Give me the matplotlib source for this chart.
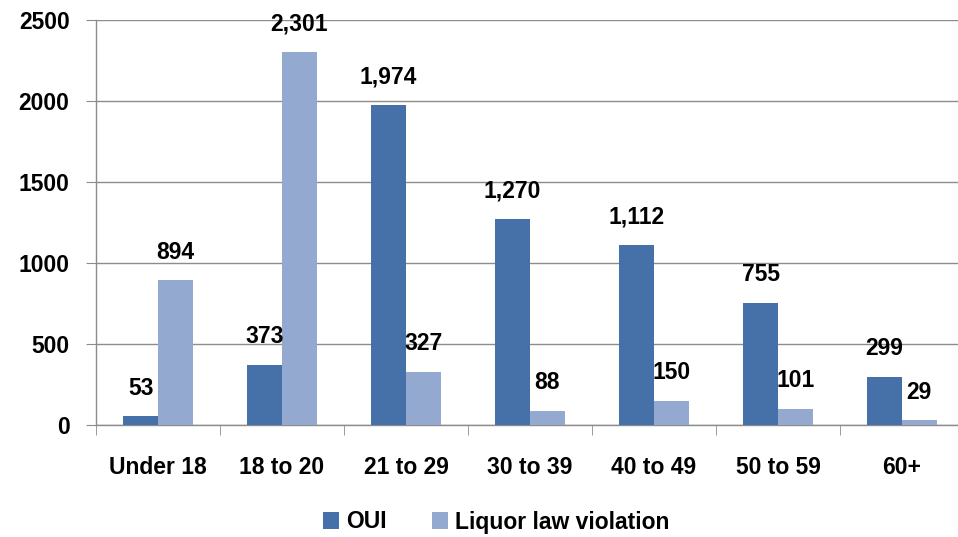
import matplotlib

matplotlib.use("Agg")
import matplotlib.pyplot as plt
import numpy as np

# Age groups and counts per offence type
AGE_GROUPS = ["Under 18", "18 to 20", "21 to 29", "30 to 39", "40 to 49", "50 to 59", "60+"]
OUI = [53, 373, 1974, 1270, 1112, 755, 299]
LIQUOR = [894, 2301, 327, 88, 150, 101, 29]
Y_TICKS = [0, 500, 1000, 1500, 2000, 2500]

OUI_COLOR = "#4571a8"
LIQUOR_COLOR = "#93a9d0"
GRID_COLOR = "#8c8c8c"
FS = 16.5

plt.rcParams["font.family"] = ["Liberation Sans", "DejaVu Sans"]
plt.rcParams["font.weight"] = "bold"

fig = plt.figure(figsize=(9.58, 5.37), dpi=100)
ax = fig.add_axes([96 / 958, 1 - 425 / 537, 868 / 958, 405 / 537])

x = np.arange(len(AGE_GROUPS))
w = 0.28
b1 = ax.bar(x - w / 2, OUI, width=w, color=OUI_COLOR, label="OUI", zorder=3)
b2 = ax.bar(x + w / 2, LIQUOR, width=w, color=LIQUOR_COLOR, label="Liquor law violation", zorder=3)

# value labels sit well above each bar, as in the original
for bars, vals in ((b1, OUI), (b2, LIQUOR)):
    for rect, v in zip(bars, vals):
        ax.annotate(f"{v:,}", xy=(rect.get_x() + rect.get_width() / 2, rect.get_height()),
                    xytext=(0, 12), textcoords="offset points",
                    ha="center", va="bottom", fontsize=FS, fontweight="bold",
                    color="black", annotation_clip=False)

ax.set_xlim(-0.5, len(AGE_GROUPS) - 0.5)
ax.set_ylim(0, 2500)
ax.set_yticks(Y_TICKS)
ax.set_yticklabels([str(t) for t in Y_TICKS], fontsize=FS, fontweight="bold")
ax.set_xticks(x)
ax.set_xticklabels(AGE_GROUPS, fontsize=FS, fontweight="bold")
ax.set_xticks(np.arange(len(AGE_GROUPS)) - 0.5, minor=True)
ax.tick_params(axis="x", which="major", length=0, pad=22)
ax.tick_params(axis="x", which="minor", length=7, color=GRID_COLOR, direction="out")
ax.tick_params(axis="y", length=7, color=GRID_COLOR, pad=12)

ax.yaxis.grid(True, color=GRID_COLOR, linewidth=1, zorder=0)
ax.set_axisbelow(True)
for s in ("top", "right"):
    ax.spines[s].set_visible(False)
for s in ("left", "bottom"):
    ax.spines[s].set_color(GRID_COLOR)
    ax.spines[s].set_linewidth(1)

fig.legend(handles=[b1, b2], loc="center", bbox_to_anchor=(0.518, 1 - 522 / 537),
           ncol=2, frameon=False, handlelength=0.7, handleheight=0.7,
           handletextpad=0.3, columnspacing=2.0, prop={"weight": "bold", "size": FS})

fig.savefig("out.png", dpi=100)
